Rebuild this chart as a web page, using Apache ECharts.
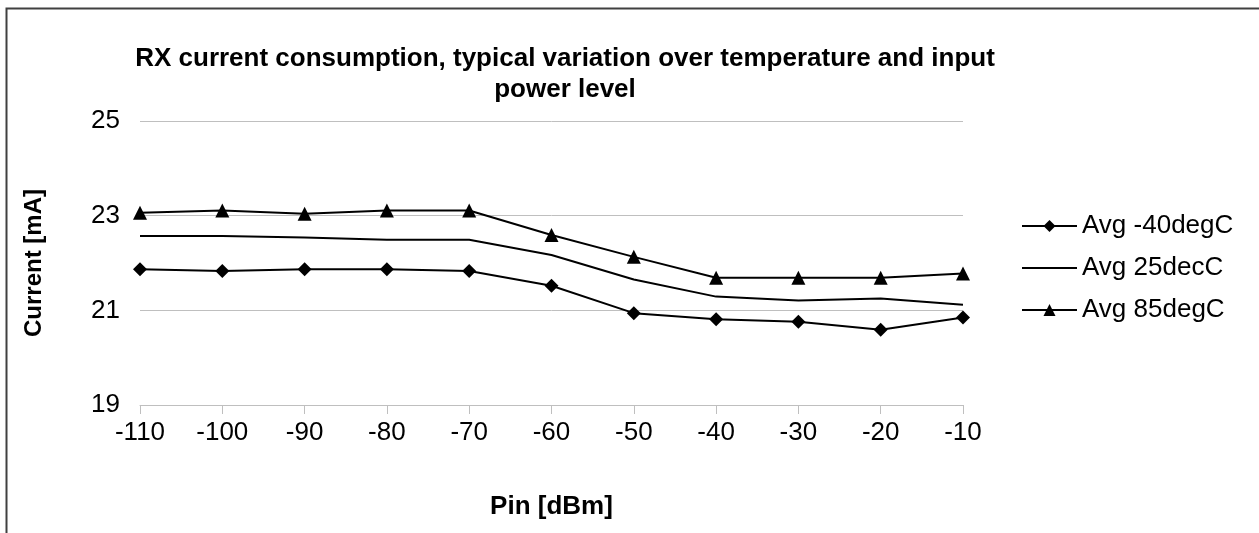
<!DOCTYPE html>
<html>
<head>
<meta charset="utf-8">
<script src="https://cdn.jsdelivr.net/npm/echarts@6/dist/echarts.min.js"></script>
<style>
html,body{margin:0;padding:0;background:#fff;}
#c{width:1259px;height:533px;}
</style>
</head>
<body>
<div id="c"></div>
<script>
const pin = [-110, -100, -90, -80, -70, -60, -50, -40, -30, -20, -10];
const avgM40 = [21.87, 21.83, 21.87, 21.87, 21.83, 21.52, 20.94, 20.81, 20.76, 20.59, 20.85];
const avg25 = [22.57, 22.57, 22.54, 22.49, 22.49, 22.17, 21.65, 21.29, 21.21, 21.25, 21.12];
const avg85 = [23.06, 23.11, 23.04, 23.11, 23.11, 22.59, 22.13, 21.69, 21.69, 21.69, 21.78];
const seriesNames = ['Avg -40degC', 'Avg 25decC', 'Avg 85degC'];

const pairs = ys => pin.map((x, i) => [x, ys[i]]);
const FONT = '"Liberation Sans", Arial, sans-serif';
const FS = 26;

const chart = echarts.init(document.getElementById('c'), null, {renderer: 'canvas'});
chart.setOption({
  backgroundColor: '#fff',
  animation: false,
  textStyle: {fontFamily: FONT, color: '#000'},
  title: {
    text: 'RX current consumption, typical variation over temperature and input\npower level',
    left: 560,
    top: 38,
    textAlign: 'center',
    textStyle: {fontFamily: FONT, fontSize: FS, fontWeight: 'bold', color: '#000', lineHeight: 31}
  },
  grid: {left: 140, right: 296, top: 121, bottom: 128, containLabel: false},
  legend: {
    orient: 'vertical',
    left: 1016,
    top: 208,
    itemWidth: 55,
    itemHeight: 15,
    itemGap: 16,
    textStyle: {fontFamily: FONT, fontSize: FS, color: '#000', lineHeight: 26},
    data: [
      {name: seriesNames[0]},
      {name: seriesNames[1], itemStyle: {opacity: 0}},
      {name: seriesNames[2]}
    ]
  },
  xAxis: {
    type: 'value',
    min: -110, max: -10, interval: 10,
    name: 'Pin [dBm]',
    nameLocation: 'middle',
    nameGap: 89,
    nameTextStyle: {fontFamily: FONT, fontSize: FS, fontWeight: 'bold', color: '#000'},
    axisLine: {show: true, lineStyle: {color: '#bfbfbf', width: 1}},
    axisTick: {show: true, length: 9, lineStyle: {color: '#bfbfbf'}},
    axisLabel: {fontFamily: FONT, fontSize: FS, color: '#000', margin: 15},
    splitLine: {show: false}
  },
  yAxis: {
    type: 'value',
    min: 19, max: 25, interval: 2,
    name: 'Current [mA]',
    nameLocation: 'middle',
    nameGap: 94,
    nameRotate: 90,
    nameTextStyle: {fontFamily: FONT, fontSize: 24, fontWeight: 'bold', color: '#000'},
    axisLine: {show: false},
    axisTick: {show: false},
    axisLabel: {fontFamily: FONT, fontSize: FS, color: '#000', margin: 20},
    splitLine: {show: true, lineStyle: {color: '#bfbfbf', width: 1}}
  },
  series: [
    {
      name: seriesNames[0], type: 'line', data: pairs(avgM40),
      symbol: 'diamond', symbolSize: 14, showAllSymbol: true,
      lineStyle: {color: '#000', width: 2}, itemStyle: {color: '#000'}
    },
    {
      name: seriesNames[1], type: 'line', data: pairs(avg25),
      symbol: 'none',
      lineStyle: {color: '#000', width: 2}, itemStyle: {color: '#000'}
    },
    {
      name: seriesNames[2], type: 'line', data: pairs(avg85),
      symbol: 'triangle', symbolSize: 14, showAllSymbol: true,
      lineStyle: {color: '#000', width: 2}, itemStyle: {color: '#000'}
    }
  ],
  graphic: [
    {
      type: 'polyline', silent: true,
      shape: {points: [[6.5, 533], [6.5, 8.5], [1259, 8.5]]},
      style: {stroke: '#404040', lineWidth: 2, fill: null}
    }
  ]
});
</script>
</body>
</html>
